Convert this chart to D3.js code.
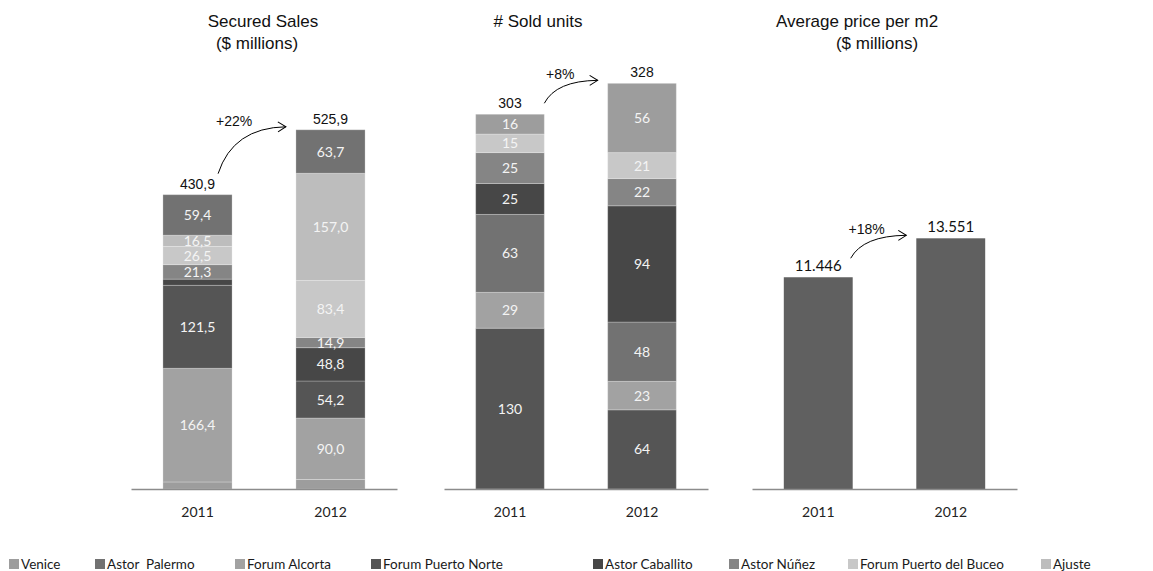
<!DOCTYPE html>
<html>
<head>
<meta charset="utf-8">
<script src="https://cdn.jsdelivr.net/npm/d3@7"></script>
<style>
  body { margin: 0; background: #fff; }
  text { white-space: pre; }
</style>
</head>
<body>
<svg width="1153" height="571"></svg>
<script>
var years = ["2011", "2012"];

// legend order
var legendNames = ["Venice", "Astor  Palermo", "Forum Alcorta", "Forum Puerto Norte",
                   "Astor Caballito", "Astor Núñez", "Forum Puerto del Buceo", "Ajuste"];
var legendColors = ["#9d9d9d", "#727272", "#a2a2a2", "#555555",
                    "#474747", "#858585", "#c8c8c8", "#bdbdbd"];

// Secured Sales ($ millions), bottom to top
var salesSeries = ["Venice", "Forum Alcorta", "Forum Puerto Norte", "Astor Caballito",
                   "Astor Núñez", "Forum Puerto del Buceo", "Ajuste", "Astor  Palermo"];
var sales2011 = [10.3, 166.4, 121.5, 9.0, 21.3, 26.5, 16.5, 59.4];
var sales2012 = [13.9, 90.0, 54.2, 48.8, 14.9, 83.4, 157.0, 63.7];

// # Sold units, bottom to top
var unitsSeries = ["Forum Puerto Norte", "Forum Alcorta", "Astor  Palermo", "Astor Caballito",
                   "Astor Núñez", "Forum Puerto del Buceo", "Venice"];
var units2011 = [130, 29, 63, 25, 25, 15, 16];
var units2012 = [64, 23, 48, 94, 22, 21, 56];

// Average price per m2
var priceSeries = ["Average price"];
var price2011 = [11446];
var price2012 = [13551];

var colorOf = d3.scaleOrdinal()
    .domain(legendNames.concat(["Average price"]))
    .range(legendColors.concat(["#606060"]));

var loc = d3.formatLocale({decimal: ",", thousands: ".", grouping: [3], currency: ["$", ""]});
var fmt1 = loc.format(",.1f");
var fmt0 = loc.format(",.0f");
var pct = function (a, b) { return "+" + Math.round((b / a - 1) * 100) + "%"; };

var svg = d3.select("svg");
var baseY = 489;

var defs = svg.append("defs");
defs.append("marker")
    .attr("id", "head")
    .attr("markerUnits", "userSpaceOnUse")
    .attr("markerWidth", 12).attr("markerHeight", 12)
    .attr("refX", 9).attr("refY", 6)
    .attr("orient", "auto")
  .append("path")
    .attr("d", "M1,1 L9,6 L1,11")
    .attr("fill", "none")
    .attr("stroke", "#000")
    .attr("stroke-width", 1);

function drawPanel(p) {
    var x = d3.scaleBand().domain(years).range([p.x0, p.x1])
        .paddingInner(0.48).paddingOuter(0.24);
    var y = d3.scaleLinear().domain([0, p.yMax]).range([baseY, 45]);
    var g = svg.append("g");

    var rows = years.map(function (yr, i) {
        var r = {year: yr};
        p.series.forEach(function (s, j) { r[s] = p.values[i][j]; });
        return r;
    });
    var stacked = d3.stack().keys(p.series)(rows);

    stacked.forEach(function (layer) {
        g.selectAll(null).data(layer).enter().append("rect")
            .attr("x", function (d) { return x(d.data.year); })
            .attr("width", x.bandwidth())
            .attr("y", function (d) { return y(d[1]); })
            .attr("height", function (d) { return y(d[0]) - y(d[1]); })
            .attr("fill", colorOf(layer.key))
            .attr("stroke", p.series.length > 1 ? "rgba(255,255,255,0.25)" : "none")
            .attr("stroke-width", 1);
        if (p.series.length > 1) {
            g.selectAll(null).data(layer.filter(function (d) { return d[1] - d[0] >= 14; }))
                .enter().append("text")
                .attr("x", function (d) { return x(d.data.year) + x.bandwidth() / 2; })
                .attr("y", function (d) { return (y(d[0]) + y(d[1])) / 2; })
                .attr("dy", "0.36em")
                .attr("text-anchor", "middle")
                .attr("font-family", "Lato, 'Open Sans', sans-serif")
                .attr("font-size", 14)
                .attr("fill", "#f4f4f4")
                .text(function (d) { return p.fmt(d[1] - d[0]); });
        }
    });

    var totals = p.values.map(function (v) { return d3.sum(v); });

    // totals
    g.selectAll(null).data(years).enter().append("text")
        .attr("x", function (d) { return x(d) + x.bandwidth() / 2; })
        .attr("y", function (d, i) { return y(totals[i]) - 6; })
        .attr("text-anchor", "middle")
        .attr("font-family", p.totalFont)
        .attr("font-size", p.totalSize)
        .attr("fill", "#111")
        .text(function (d, i) { return p.totalFmt(totals[i]); });

    // growth arrow
    var sx = x(years[0]) + x.bandwidth() - p.arrowIn, sy = y(totals[0]) - p.arrowUp;
    var ex = x(years[1]) - 10, ey = y(totals[1]) - 3;
    var cx = sx + 0.22 * (ex - sx), cy = ey + 0.02 * (sy - ey);
    g.append("path")
        .attr("d", "M" + sx + "," + sy + " Q" + cx + "," + cy + " " + ex + "," + ey)
        .attr("fill", "none")
        .attr("stroke", "#000")
        .attr("stroke-width", 1)
        .attr("marker-end", "url(#head)");
    g.append("text")
        .attr("x", sx + 16)
        .attr("y", ey - 1)
        .attr("text-anchor", "middle")
        .attr("font-family", "'Liberation Sans', Arial, sans-serif")
        .attr("font-size", 14)
        .attr("fill", "#111")
        .text(pct(totals[0], totals[1]));

    // axis
    var axis = g.append("g")
        .attr("transform", "translate(0," + baseY + ")")
        .call(d3.axisBottom(x).tickSize(0).tickPadding(18));
    axis.select(".domain").attr("stroke", "#8c8c8c").attr("stroke-width", 1.5);
    axis.selectAll("text")
        .attr("font-family", "Lato, 'Open Sans', sans-serif")
        .attr("font-size", 14)
        .attr("fill", "#222");

    // titles
    p.titles.forEach(function (t) {
        svg.append("text")
            .attr("x", t[1]).attr("y", t[2])
            .attr("text-anchor", "middle")
            .attr("font-family", "'Liberation Sans', Arial, sans-serif")
            .attr("font-size", 17)
            .attr("fill", "#111")
            .text(t[0]);
    });
}

drawPanel({
    x0: 131, x1: 397, yMax: 650,
    series: salesSeries, values: [sales2011, sales2012],
    fmt: fmt1, totalFmt: fmt1,
    totalFont: "'Liberation Sans', Arial, sans-serif", totalSize: 14,
    arrowIn: 14, arrowUp: 21,
    titles: [["Secured Sales", 263, 27], ["($ millions)", 257, 49]]
});

drawPanel({
    x0: 444, x1: 708, yMax: 359,
    series: unitsSeries, values: [units2011, units2012],
    fmt: fmt0, totalFmt: fmt0,
    totalFont: "'Liberation Sans', Arial, sans-serif", totalSize: 14,
    arrowIn: 0, arrowUp: 11,
    titles: [["# Sold units", 538, 27]]
});

drawPanel({
    x0: 752, x1: 1017, yMax: 24000,
    series: priceSeries, values: [price2011, price2012],
    fmt: fmt0, totalFmt: fmt0,
    totalFont: "Lato, 'Open Sans', sans-serif", totalSize: 15,
    arrowIn: 2, arrowUp: 19,
    titles: [["Average price per m2", 857, 27], ["($ millions)", 877, 49]]
});

// legend
var legendX = [9, 95, 235, 371, 593, 729, 848, 1041];
var leg = svg.append("g").attr("font-family", "Lato, 'Open Sans', sans-serif").attr("font-size", 13.5);
legendNames.forEach(function (n, i) {
    leg.append("rect")
        .attr("x", legendX[i]).attr("y", 559)
        .attr("width", 10).attr("height", 10)
        .attr("fill", legendColors[i]);
    leg.append("text")
        .attr("x", legendX[i] + 12).attr("y", 569)
        .attr("fill", "#1a1a1a")
        .text(n);
});
</script>
</body>
</html>
